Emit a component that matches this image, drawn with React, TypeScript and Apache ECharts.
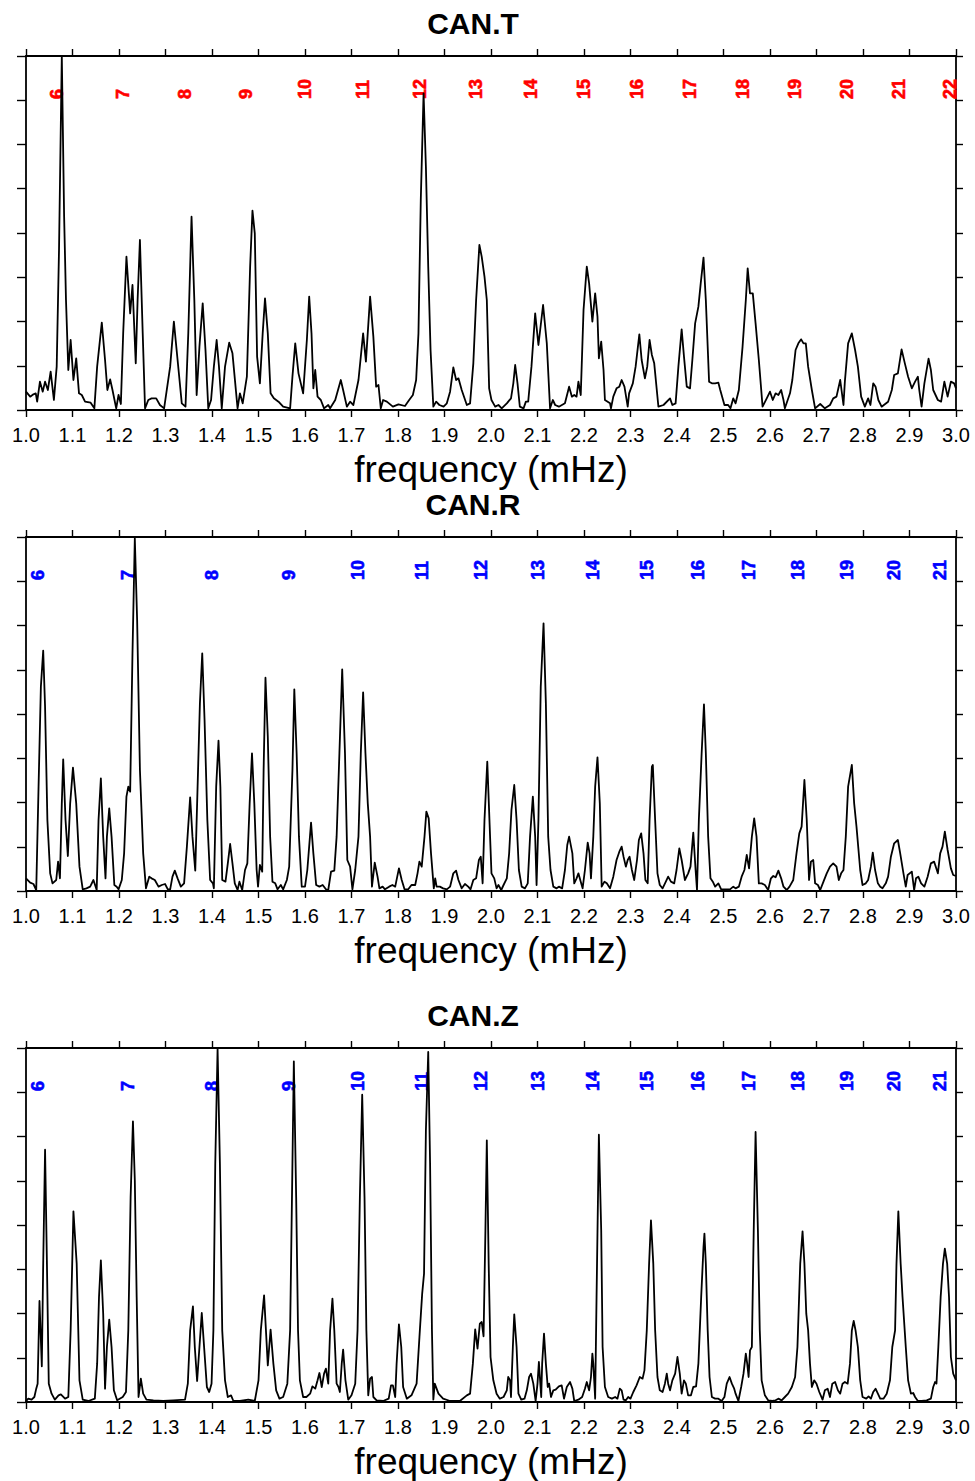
import React, { useEffect, useRef } from "react";
import * as echarts from "echarts";

// ---------- DATA (frequency in mHz, amplitude in arbitrary units, full scale = 10.62) ----------
const PANEL_TITLES = ["CAN.T", "CAN.R", "CAN.Z"];

const CAN_T: [number, number][] = [
  [1.000,0.55],[1.009,0.40],[1.016,0.47],[1.021,0.50],[1.024,0.25],[1.030,0.85],[1.036,0.55],[1.041,0.85],[1.047,0.60],[1.053,1.15],
  [1.060,0.30],[1.066,1.30],[1.071,4.80],[1.077,10.62],[1.082,5.80],[1.086,3.30],[1.091,1.20],[1.096,2.10],[1.102,0.90],[1.108,1.55],
  [1.114,0.50],[1.120,0.45],[1.127,0.25],[1.139,0.22],[1.147,0.05],[1.153,1.30],[1.163,2.62],[1.170,1.50],[1.175,0.60],[1.181,0.92],
  [1.186,0.60],[1.194,0.05],[1.199,0.45],[1.204,0.18],[1.209,2.30],[1.216,4.60],[1.224,2.90],[1.229,3.75],[1.236,1.40],[1.240,3.30],
  [1.245,5.10],[1.251,2.30],[1.256,0.05],[1.263,0.30],[1.270,0.35],[1.280,0.35],[1.288,0.15],[1.297,0.05],[1.310,1.30],[1.318,2.65],
  [1.326,1.50],[1.335,0.20],[1.343,0.10],[1.349,2.30],[1.356,5.80],[1.362,3.30],[1.367,0.45],[1.373,1.90],[1.380,3.20],[1.386,1.80],
  [1.392,0.05],[1.398,0.30],[1.404,1.30],[1.410,2.10],[1.415,1.30],[1.421,0.05],[1.428,1.30],[1.437,2.02],[1.444,1.70],[1.455,0.05],
  [1.460,0.50],[1.466,0.20],[1.475,1.00],[1.482,4.30],[1.487,5.98],[1.492,5.30],[1.497,1.60],[1.503,0.80],[1.509,2.30],[1.514,3.35],
  [1.520,2.30],[1.526,0.50],[1.533,0.35],[1.543,0.25],[1.553,0.10],[1.568,0.05],[1.573,1.00],[1.579,2.00],[1.586,1.10],[1.596,0.50],
  [1.604,2.10],[1.609,3.40],[1.614,2.30],[1.618,0.65],[1.622,1.20],[1.627,0.40],[1.634,0.30],[1.641,0.05],[1.650,0.15],[1.654,0.05],
  [1.665,0.30],[1.677,0.90],[1.682,0.60],[1.690,0.10],[1.697,0.25],[1.704,0.15],[1.715,0.90],[1.725,2.30],[1.731,1.45],[1.740,3.40],
  [1.747,2.20],[1.753,0.70],[1.758,0.75],[1.763,0.05],[1.768,0.30],[1.776,0.25],[1.789,0.10],[1.801,0.17],[1.815,0.12],[1.824,0.30],
  [1.832,0.45],[1.839,0.90],[1.844,2.30],[1.849,6.30],[1.855,9.50],[1.860,7.30],[1.865,4.30],[1.870,1.80],[1.876,0.10],[1.882,0.25],
  [1.889,0.15],[1.898,0.10],[1.905,0.20],[1.912,0.55],[1.919,1.28],[1.925,0.90],[1.930,0.95],[1.937,0.60],[1.948,0.15],[1.955,0.20],
  [1.962,1.40],[1.968,3.30],[1.975,4.95],[1.980,4.60],[1.986,4.00],[1.991,3.30],[1.996,0.65],[2.001,0.30],[2.009,0.10],[2.016,0.15],
  [2.023,0.05],[2.034,0.20],[2.043,0.35],[2.048,0.80],[2.052,1.35],[2.057,0.80],[2.062,0.10],[2.070,0.05],[2.075,0.25],[2.080,0.25],
  [2.087,1.30],[2.095,2.90],[2.102,1.95],[2.112,3.15],[2.120,2.00],[2.127,0.05],[2.133,0.30],[2.138,0.15],[2.146,0.10],[2.159,0.20],
  [2.168,0.70],[2.174,0.40],[2.179,0.45],[2.184,0.40],[2.188,0.85],[2.193,0.45],[2.199,3.00],[2.206,4.30],[2.211,3.80],[2.218,2.65],
  [2.224,3.50],[2.229,2.80],[2.232,1.55],[2.237,2.05],[2.242,1.20],[2.245,0.30],[2.256,0.20],[2.258,0.05],[2.263,0.40],[2.270,0.65],
  [2.276,0.70],[2.281,0.90],[2.287,0.70],[2.294,0.10],[2.297,0.50],[2.305,0.80],[2.311,1.30],[2.319,2.27],[2.324,1.50],[2.331,0.95],
  [2.336,1.30],[2.341,2.10],[2.346,1.65],[2.351,1.40],[2.360,0.10],[2.371,0.15],[2.385,0.35],[2.390,0.15],[2.397,0.20],[2.403,1.30],
  [2.410,2.42],[2.415,1.60],[2.421,0.70],[2.428,0.65],[2.433,1.50],[2.439,2.60],[2.446,3.10],[2.451,3.80],[2.457,4.57],[2.462,3.30],
  [2.469,0.85],[2.475,0.80],[2.482,0.80],[2.489,0.82],[2.493,0.60],[2.502,0.15],[2.510,0.15],[2.515,0.05],[2.521,0.35],[2.526,0.20],
  [2.533,0.60],[2.541,1.90],[2.548,3.30],[2.552,4.25],[2.557,3.50],[2.563,3.50],[2.569,2.60],[2.576,1.50],[2.584,0.10],[2.593,0.35],
  [2.600,0.55],[2.606,0.30],[2.612,0.50],[2.618,0.45],[2.624,0.60],[2.629,0.30],[2.632,0.05],[2.643,0.50],[2.648,0.90],[2.655,1.80],
  [2.661,2.00],[2.667,2.12],[2.672,2.00],[2.677,2.00],[2.682,1.30],[2.690,0.60],[2.697,0.05],[2.708,0.18],[2.718,0.05],[2.729,0.15],
  [2.736,0.35],[2.743,0.40],[2.751,0.90],[2.758,0.15],[2.761,0.85],[2.768,2.00],[2.776,2.30],[2.783,1.80],[2.789,1.30],[2.796,0.40],
  [2.804,0.10],[2.811,0.35],[2.816,0.15],[2.822,0.80],[2.827,0.70],[2.833,0.30],[2.840,0.10],[2.854,0.25],[2.862,0.60],[2.867,1.05],
  [2.875,1.10],[2.883,1.82],[2.890,1.40],[2.897,1.00],[2.905,0.65],[2.912,0.85],[2.918,1.00],[2.921,0.60],[2.926,0.10],[2.932,0.80],
  [2.941,1.54],[2.946,1.20],[2.951,0.60],[2.961,0.30],[2.968,0.25],[2.975,0.85],[2.982,0.40],[2.989,0.85],[2.996,0.80],[3.000,0.65],
];

const CAN_R: [number, number][] = [
  [1.000,0.38],[1.009,0.25],[1.016,0.21],[1.022,0.03],[1.027,3.13],[1.032,6.13],[1.037,7.21],[1.041,5.53],[1.046,2.13],[1.052,0.53],
  [1.057,0.23],[1.065,0.33],[1.069,0.88],[1.073,0.38],[1.077,2.63],[1.080,3.95],[1.085,2.13],[1.090,1.05],[1.095,2.63],[1.101,3.70],
  [1.108,2.63],[1.115,0.73],[1.122,0.05],[1.130,0.08],[1.138,0.13],[1.145,0.33],[1.152,0.03],[1.156,2.13],[1.161,3.38],[1.166,1.63],
  [1.171,0.38],[1.174,1.63],[1.179,2.48],[1.184,1.63],[1.190,0.18],[1.195,0.13],[1.199,0.05],[1.206,0.33],[1.211,1.13],[1.216,2.83],
  [1.220,3.13],[1.224,2.98],[1.229,7.13],[1.234,10.58],[1.239,8.13],[1.245,3.63],[1.252,1.13],[1.258,0.08],[1.265,0.43],[1.270,0.38],
  [1.277,0.33],[1.285,0.13],[1.292,0.18],[1.299,0.21],[1.305,0.05],[1.310,0.05],[1.315,0.43],[1.320,0.61],[1.326,0.38],[1.333,0.13],
  [1.340,0.23],[1.346,1.33],[1.353,2.81],[1.358,1.63],[1.364,0.61],[1.369,3.13],[1.374,5.63],[1.379,7.13],[1.384,5.13],[1.390,2.13],
  [1.396,0.33],[1.402,0.23],[1.404,0.08],[1.409,3.13],[1.414,4.51],[1.418,3.13],[1.422,0.33],[1.429,0.28],[1.434,0.83],[1.439,1.41],
  [1.444,0.83],[1.449,0.23],[1.455,0.03],[1.459,0.28],[1.465,0.03],[1.471,0.63],[1.476,0.83],[1.481,2.63],[1.486,4.13],[1.491,2.63],
  [1.496,0.63],[1.499,0.13],[1.503,0.78],[1.508,0.58],[1.511,3.63],[1.515,6.40],[1.520,4.63],[1.525,1.63],[1.530,0.28],[1.536,0.23],
  [1.541,0.05],[1.548,0.18],[1.553,0.05],[1.561,0.33],[1.566,0.73],[1.573,3.63],[1.577,6.05],[1.582,4.13],[1.587,1.63],[1.593,0.13],
  [1.600,0.13],[1.605,0.63],[1.613,2.05],[1.618,1.13],[1.624,0.18],[1.631,0.13],[1.638,0.18],[1.645,0.05],[1.650,0.03],[1.656,0.58],
  [1.663,0.61],[1.668,1.63],[1.674,4.13],[1.680,6.65],[1.686,4.13],[1.691,0.93],[1.697,0.73],[1.702,0.05],[1.708,0.63],[1.715,1.63],
  [1.720,4.13],[1.725,5.96],[1.730,4.13],[1.735,2.63],[1.740,1.63],[1.744,0.13],[1.750,0.85],[1.756,0.43],[1.760,0.08],[1.767,0.13],
  [1.772,0.05],[1.781,0.13],[1.788,0.18],[1.794,0.13],[1.802,0.68],[1.808,0.33],[1.814,0.05],[1.822,0.05],[1.829,0.18],[1.837,0.18],
  [1.842,0.53],[1.846,0.88],[1.851,0.73],[1.857,1.63],[1.861,2.38],[1.866,2.18],[1.871,1.13],[1.877,0.08],[1.880,0.38],[1.883,0.13],
  [1.890,0.13],[1.897,0.08],[1.905,0.05],[1.912,0.13],[1.919,0.53],[1.925,0.61],[1.930,0.33],[1.937,0.08],[1.944,0.21],[1.951,0.13],
  [1.956,0.05],[1.962,0.33],[1.968,0.38],[1.974,0.93],[1.978,1.03],[1.982,0.23],[1.986,2.13],[1.992,3.88],[1.997,2.00],[2.001,0.53],
  [2.007,0.38],[2.012,0.08],[2.016,0.18],[2.022,0.03],[2.027,0.18],[2.034,0.38],[2.039,1.13],[2.044,2.43],[2.050,3.18],[2.055,2.13],
  [2.060,0.63],[2.066,0.13],[2.073,0.08],[2.079,0.23],[2.084,1.63],[2.090,2.83],[2.095,1.63],[2.098,0.18],[2.102,2.13],[2.107,6.13],
  [2.113,8.03],[2.118,5.63],[2.123,1.63],[2.128,0.63],[2.134,0.13],[2.141,0.08],[2.146,0.13],[2.153,0.08],[2.159,0.63],[2.164,1.38],
  [2.168,1.63],[2.175,1.13],[2.179,0.23],[2.184,0.38],[2.188,0.53],[2.193,0.28],[2.197,0.08],[2.202,0.63],[2.208,1.45],[2.212,1.13],
  [2.215,0.38],[2.220,1.63],[2.224,3.13],[2.229,4.01],[2.234,2.63],[2.238,0.13],[2.244,0.28],[2.249,0.23],[2.256,0.08],[2.263,0.43],
  [2.270,0.93],[2.276,1.18],[2.281,1.33],[2.285,1.03],[2.290,0.73],[2.294,0.93],[2.298,1.03],[2.303,0.63],[2.308,0.33],[2.314,0.93],
  [2.318,1.53],[2.323,1.73],[2.328,1.13],[2.332,0.33],[2.337,0.23],[2.341,2.13],[2.346,3.73],[2.348,3.78],[2.353,2.13],[2.358,0.53],
  [2.363,0.18],[2.369,0.08],[2.376,0.28],[2.381,0.43],[2.387,0.28],[2.394,0.23],[2.399,0.63],[2.405,1.28],[2.410,0.93],[2.417,0.33],
  [2.424,0.53],[2.429,0.73],[2.435,1.75],[2.440,0.63],[2.443,0.03],[2.447,2.13],[2.453,4.13],[2.458,5.60],[2.462,4.13],[2.467,1.63],
  [2.472,0.38],[2.477,0.28],[2.482,0.13],[2.489,0.23],[2.495,0.05],[2.503,0.05],[2.514,0.05],[2.521,0.13],[2.526,0.08],[2.533,0.13],
  [2.539,0.43],[2.545,0.63],[2.550,1.08],[2.555,0.68],[2.561,1.63],[2.566,2.18],[2.571,1.63],[2.576,0.23],[2.582,0.23],[2.589,0.18],
  [2.596,0.03],[2.602,0.38],[2.607,0.45],[2.612,0.41],[2.618,0.61],[2.624,0.38],[2.629,0.13],[2.636,0.03],[2.642,0.13],[2.650,0.33],
  [2.657,1.13],[2.663,1.73],[2.668,1.93],[2.674,3.33],[2.679,2.13],[2.684,0.33],[2.688,0.88],[2.693,0.93],[2.697,0.23],[2.703,0.18],
  [2.708,0.03],[2.715,0.28],[2.722,0.53],[2.729,0.73],[2.736,0.83],[2.743,0.73],[2.748,0.33],[2.753,0.53],[2.758,0.63],[2.763,1.63],
  [2.768,3.13],[2.776,3.78],[2.781,2.63],[2.786,1.93],[2.794,0.63],[2.799,0.18],[2.806,0.23],[2.811,0.33],[2.817,0.73],[2.821,1.15],
  [2.826,0.63],[2.832,0.23],[2.837,0.13],[2.842,0.08],[2.849,0.23],[2.854,0.43],[2.860,1.03],[2.867,1.43],[2.875,1.53],[2.880,1.13],
  [2.887,0.53],[2.892,0.13],[2.896,0.48],[2.905,0.58],[2.910,0.03],[2.914,0.38],[2.919,0.43],[2.925,0.23],[2.932,0.13],[2.939,0.43],
  [2.946,0.83],[2.953,0.88],[2.961,0.53],[2.966,1.13],[2.971,1.33],[2.976,1.78],[2.982,1.23],[2.989,0.68],[2.994,0.48],[3.000,0.45],
];

const CAN_Z: [number, number][] = [
  [1.000,0.03],[1.005,0.10],[1.012,0.07],[1.018,0.15],[1.022,0.40],[1.025,0.55],[1.029,3.03],[1.034,1.07],[1.037,4.15],[1.041,7.57],
  [1.045,4.15],[1.049,0.55],[1.055,0.25],[1.062,0.07],[1.070,0.20],[1.075,0.23],[1.084,0.10],[1.091,0.15],[1.096,2.15],[1.102,5.72],
  [1.109,4.15],[1.115,0.65],[1.122,0.07],[1.134,0.03],[1.148,0.10],[1.153,1.15],[1.157,3.15],[1.161,4.25],[1.166,2.65],[1.170,0.40],
  [1.174,1.65],[1.179,2.47],[1.184,1.65],[1.189,0.35],[1.196,0.05],[1.208,0.15],[1.215,0.30],[1.220,2.15],[1.225,6.15],[1.230,8.42],
  [1.234,6.65],[1.238,3.15],[1.242,0.15],[1.247,0.70],[1.252,0.25],[1.259,0.07],[1.274,0.05],[1.295,0.03],[1.317,0.05],[1.342,0.07],
  [1.348,0.55],[1.353,2.15],[1.359,2.87],[1.363,1.65],[1.368,0.63],[1.373,1.65],[1.378,2.67],[1.383,1.65],[1.389,0.45],[1.394,0.30],
  [1.399,0.55],[1.403,2.15],[1.407,7.15],[1.412,10.60],[1.417,7.15],[1.422,2.15],[1.428,0.65],[1.434,0.15],[1.441,0.20],[1.446,0.03],
  [1.460,0.03],[1.478,0.07],[1.492,0.03],[1.500,0.65],[1.505,2.15],[1.512,3.20],[1.516,2.15],[1.520,1.10],[1.526,2.17],[1.532,1.15],
  [1.538,0.35],[1.545,0.10],[1.553,0.15],[1.562,0.55],[1.568,2.15],[1.572,6.15],[1.576,10.22],[1.581,6.15],[1.585,2.15],[1.589,0.65],
  [1.596,0.15],[1.603,0.15],[1.611,0.25],[1.616,0.47],[1.622,0.40],[1.627,0.65],[1.631,0.87],[1.636,0.45],[1.641,0.85],[1.645,1.00],
  [1.650,0.55],[1.654,2.15],[1.659,3.10],[1.663,2.15],[1.668,0.55],[1.672,0.45],[1.675,0.30],[1.679,1.15],[1.682,1.57],[1.687,0.65],
  [1.693,0.07],[1.700,0.20],[1.708,0.55],[1.713,2.15],[1.718,6.15],[1.723,9.22],[1.728,6.15],[1.732,2.15],[1.736,0.20],[1.740,0.70],
  [1.744,0.75],[1.747,0.15],[1.754,0.05],[1.768,0.03],[1.780,0.10],[1.785,0.50],[1.789,0.50],[1.794,0.15],[1.797,1.15],[1.802,2.33],
  [1.807,1.65],[1.811,0.45],[1.819,0.10],[1.829,0.20],[1.840,0.55],[1.847,2.15],[1.852,3.25],[1.856,3.85],[1.860,8.15],[1.865,10.50],
  [1.869,7.15],[1.873,2.15],[1.876,0.07],[1.879,0.55],[1.887,0.25],[1.897,0.10],[1.912,0.03],[1.933,0.03],[1.948,0.20],[1.955,0.25],
  [1.961,1.15],[1.966,2.18],[1.971,1.60],[1.976,2.35],[1.980,2.40],[1.984,1.97],[1.988,5.15],[1.991,7.85],[1.995,4.15],[1.999,1.35],
  [2.005,0.65],[2.012,0.25],[2.019,0.10],[2.027,0.15],[2.034,0.35],[2.037,0.75],[2.041,0.65],[2.043,0.15],[2.047,1.65],[2.050,2.63],
  [2.055,1.65],[2.059,0.25],[2.065,0.07],[2.072,0.10],[2.077,0.35],[2.082,0.75],[2.086,0.85],[2.091,0.55],[2.096,0.03],[2.100,0.55],
  [2.103,1.20],[2.108,0.15],[2.110,1.15],[2.114,2.05],[2.118,1.15],[2.122,0.45],[2.125,0.55],[2.129,0.15],[2.134,0.35],[2.139,0.37],
  [2.146,0.47],[2.152,0.50],[2.157,0.10],[2.163,0.45],[2.170,0.60],[2.175,0.40],[2.179,0.03],[2.188,0.07],[2.196,0.15],[2.202,0.40],
  [2.206,0.60],[2.211,0.35],[2.215,0.75],[2.218,1.45],[2.220,1.15],[2.224,0.10],[2.227,3.15],[2.232,8.02],[2.237,5.15],[2.240,1.65],
  [2.245,0.45],[2.252,0.15],[2.260,0.10],[2.267,0.15],[2.272,0.10],[2.277,0.40],[2.281,0.35],[2.285,0.07],[2.290,0.05],[2.295,0.15],
  [2.300,0.10],[2.306,0.30],[2.313,0.50],[2.320,0.75],[2.326,0.70],[2.330,0.95],[2.335,2.15],[2.340,4.15],[2.344,5.45],[2.349,4.15],
  [2.353,2.15],[2.358,0.75],[2.363,0.35],[2.369,0.30],[2.374,0.55],[2.378,0.85],[2.381,0.55],[2.385,0.35],[2.390,0.65],[2.396,0.85],
  [2.401,1.35],[2.406,0.85],[2.410,0.25],[2.415,0.65],[2.419,0.55],[2.424,0.20],[2.430,0.20],[2.435,0.45],[2.441,0.47],[2.446,1.15],
  [2.452,3.15],[2.457,4.65],[2.459,5.05],[2.462,4.15],[2.466,2.15],[2.470,0.75],[2.475,0.15],[2.482,0.10],[2.489,0.10],[2.496,0.03],
  [2.502,0.15],[2.507,0.55],[2.513,0.75],[2.518,0.55],[2.523,0.40],[2.526,0.25],[2.532,0.03],[2.538,0.45],[2.543,0.85],[2.548,1.45],
  [2.551,1.15],[2.554,0.75],[2.557,1.55],[2.561,1.65],[2.565,5.15],[2.569,8.10],[2.574,5.15],[2.578,2.15],[2.582,0.65],[2.589,0.20],
  [2.596,0.05],[2.605,0.03],[2.612,0.05],[2.618,0.10],[2.625,0.05],[2.632,0.15],[2.639,0.25],[2.647,0.45],[2.654,0.75],[2.659,1.65],
  [2.665,4.15],[2.670,5.12],[2.674,4.15],[2.678,2.65],[2.682,2.15],[2.686,1.15],[2.690,0.45],[2.695,0.65],[2.700,0.55],[2.706,0.30],
  [2.713,0.07],[2.718,0.35],[2.724,0.40],[2.729,0.15],[2.734,0.55],[2.740,0.60],[2.746,0.35],[2.751,0.25],[2.756,0.55],[2.761,0.60],
  [2.767,0.55],[2.772,1.15],[2.776,2.15],[2.780,2.43],[2.784,2.15],[2.789,1.65],[2.794,0.65],[2.799,0.15],[2.807,0.10],[2.812,0.17],
  [2.817,0.10],[2.822,0.30],[2.827,0.40],[2.832,0.25],[2.837,0.10],[2.844,0.10],[2.851,0.25],[2.858,0.65],[2.863,1.65],[2.869,2.15],
  [2.872,4.15],[2.876,5.72],[2.881,4.15],[2.885,3.15],[2.892,1.65],[2.897,0.65],[2.903,0.25],[2.908,0.27],[2.912,0.15],[2.918,0.03],
  [2.926,0.03],[2.937,0.05],[2.946,0.10],[2.951,0.45],[2.955,0.60],[2.958,0.55],[2.962,1.65],[2.967,3.15],[2.972,4.15],[2.976,4.60],
  [2.981,4.15],[2.985,3.15],[2.989,1.35],[2.994,0.85],[3.000,0.65],
];

// Mode labels: toroidal (T) and spheroidal (R, Z) overtone numbers and their frequencies
const T_MODE_NUMBERS = [6, 7, 8, 9, 10, 11, 12, 13, 14, 15, 16, 17, 18, 19, 20, 21, 22];
const T_MODE_FREQS = [1.067, 1.208, 1.343, 1.474, 1.601, 1.725, 1.847, 1.967, 2.085, 2.200, 2.314, 2.428, 2.542, 2.654, 2.765, 2.877, 2.987];
const S_MODE_NUMBERS = [6, 7, 8, 9, 10, 11, 12, 13, 14, 15, 16, 17, 18, 19, 20, 21];
const S_MODE_FREQS = [1.026, 1.219, 1.401, 1.565, 1.715, 1.852, 1.978, 2.100, 2.219, 2.336, 2.446, 2.555, 2.661, 2.766, 2.867, 2.966];
const MODE_LABEL_LEVEL = 9.33;

const X_MIN = 1.0;
const X_MAX = 3.0;
const X_STEP = 0.1;
const Y_MAX = 10.62;
const Y_STEP = 1.3275;

// ---------- LAYOUT / STYLE ----------
const FONT = '"Liberation Sans", Arial, Helvetica, sans-serif';
const PANEL_TOPS = [56, 537, 1048];
const PANEL_LEFT = 26;
const PANEL_W = 930;
const PANEL_H = 354;

export default function App() {
  const ref = useRef<HTMLDivElement>(null);

  useEffect(() => {
    document.body.style.margin = "0";
    document.body.style.overflow = "hidden";
    if (!ref.current) return;
    const chart = echarts.init(ref.current, null, { renderer: "svg" });

    const spectra = [CAN_T, CAN_R, CAN_Z];
    const modeSets = [
      { nums: T_MODE_NUMBERS, freqs: T_MODE_FREQS, color: "#ff0000" },
      { nums: S_MODE_NUMBERS, freqs: S_MODE_FREQS, color: "#0000ff" },
      { nums: S_MODE_NUMBERS, freqs: S_MODE_FREQS, color: "#0000ff" },
    ];

    const axisLine = { show: true, onZero: false, lineStyle: { color: "#000", width: 1.8 } };
    const tickStyle = { color: "#000", width: 1.4 };

    const grid: any[] = [];
    const xAxis: any[] = [];
    const yAxis: any[] = [];
    const series: any[] = [];
    const graphic: any[] = [];

    PANEL_TOPS.forEach((top, i) => {
      grid.push({ left: PANEL_LEFT, top, width: PANEL_W, height: PANEL_H, containLabel: false });
      xAxis.push({
        gridIndex: i, type: "value", position: "bottom", min: X_MIN, max: X_MAX, interval: X_STEP,
        axisLine, axisTick: { show: true, inside: false, length: 7, lineStyle: tickStyle },
        axisLabel: {
          show: true, margin: 15, fontSize: 20, color: "#000", fontFamily: FONT,
          showMinLabel: true, showMaxLabel: true,
          formatter: (v: number) => v.toFixed(1),
        },
        splitLine: { show: false },
        name: "frequency (mHz)", nameLocation: "middle", nameGap: 41,
        nameTextStyle: { fontSize: 37, color: "#000", fontFamily: FONT },
      });
      xAxis.push({
        gridIndex: i, type: "value", position: "top", min: X_MIN, max: X_MAX, interval: X_STEP,
        axisLine, axisTick: { show: true, inside: false, length: 7, lineStyle: tickStyle },
        axisLabel: { show: false }, splitLine: { show: false },
      });
      yAxis.push({
        gridIndex: i, type: "value", position: "left", min: 0, max: Y_MAX, interval: Y_STEP,
        axisLine, axisTick: { show: true, inside: false, length: 9, lineStyle: tickStyle },
        axisLabel: { show: false }, splitLine: { show: false },
      });
      yAxis.push({
        gridIndex: i, type: "value", position: "right", min: 0, max: Y_MAX, interval: Y_STEP,
        axisLine, axisTick: { show: true, inside: false, length: 7, lineStyle: tickStyle },
        axisLabel: { show: false }, splitLine: { show: false },
      });

      series.push({
        type: "line", xAxisIndex: 2 * i, yAxisIndex: 2 * i, data: spectra[i],
        symbol: "none", showSymbol: false, smooth: false, clip: true, silent: true,
        lineStyle: { color: "#000", width: 1.8, join: "round" },
      });

      const ms = modeSets[i];
      series.push({
        type: "scatter", xAxisIndex: 2 * i, yAxisIndex: 2 * i, silent: true,
        data: ms.freqs.map((f, k) => [f, MODE_LABEL_LEVEL, ms.nums[k]]),
        symbol: "circle", symbolSize: 1, itemStyle: { color: "rgba(0,0,0,0)" },
        label: {
          show: true, position: "inside", rotate: 90, align: "left", verticalAlign: "middle",
          formatter: (p: any) => String(p.value[2]),
          color: ms.color, opacity: 1, fontSize: 18, fontWeight: "bold", fontFamily: FONT,
          textBorderColor: ms.color, textBorderWidth: 0.6, textShadowBlur: 0,
        },
      });

      graphic.push({
        type: "text", x: 473, y: top - 33, silent: true,
        style: {
          text: PANEL_TITLES[i], font: `bold 30px ${FONT}`, fill: "#000",
          align: "center", verticalAlign: "middle", textAlign: "center", textVerticalAlign: "middle",
        },
      });
    });

    chart.setOption({
      animation: false,
      backgroundColor: "#fff",
      grid, xAxis, yAxis, series, graphic,
    });

    return () => chart.dispose();
  }, []);

  return <div ref={ref} style={{ width: 975, height: 1481 }} />;
}
